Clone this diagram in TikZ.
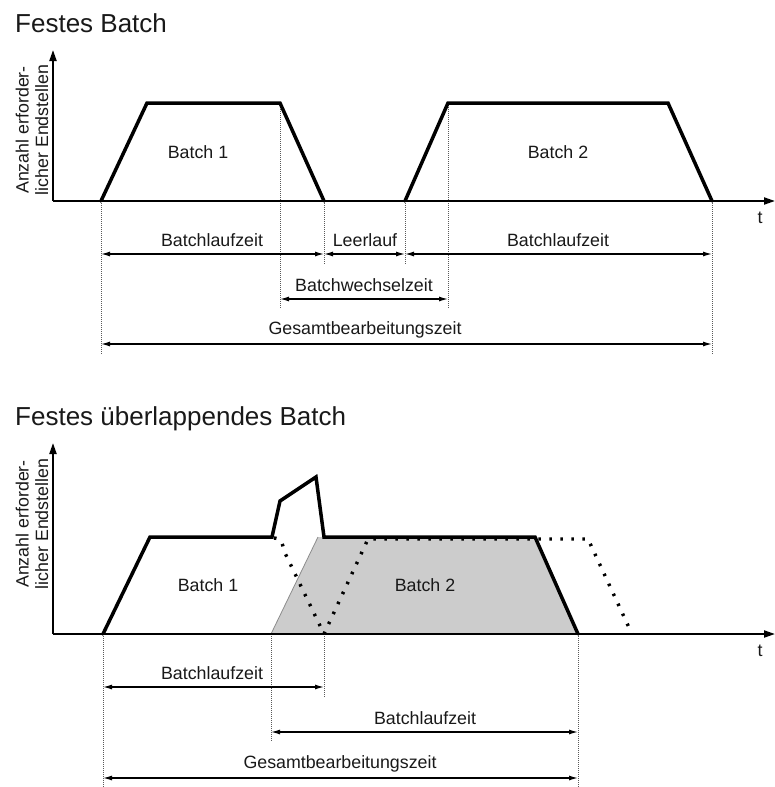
\documentclass[tikz,border=0pt]{standalone}
\usepackage{fontspec}
\setmainfont{Liberation Sans}
\usetikzlibrary{arrows.meta}
\begin{document}
\begin{tikzpicture}[x=1pt,y=-1pt,
  lbl/.style={font=\fontsize{17.8}{19.5}\selectfont, inner sep=0pt, text=black!90},
  ttl/.style={font=\fontsize{26}{30}\selectfont, inner sep=0pt, anchor=base west, text=black!90},
  axisline/.style={line width=2pt, -{Triangle[length=11pt,width=7pt]}},
  curve/.style={line width=3.5pt, line join=miter, line cap=round},
  ghost/.style={line width=3.4pt, dash pattern=on 2.5pt off 8.5pt},
  guide/.style={line width=0.9pt, black!65, dash pattern=on 1pt off 1pt},
  dim/.style={line width=1.2pt, {Latex[length=9pt,width=5pt]}-{Latex[length=9pt,width=5pt]}},
]
\useasboundingbox (0,0) rectangle (775,787);

% ================= top diagram =================
\node[ttl] (title1) at (15,32) {Festes Batch};
\coordinate (o1) at (53,201);
\coordinate (ytop1) at (53,50);
\coordinate (xend1) at (775,201);

% guides
\coordinate (A0) at (101,201);  \coordinate (A0b) at (101,355);
\coordinate (A1) at (280,103);  \coordinate (A1b) at (280,308);
\coordinate (A2) at (324,201);  \coordinate (A2b) at (324,264);
\coordinate (A3) at (405,201);  \coordinate (A3b) at (405,264);
\coordinate (A4) at (448,103);  \coordinate (A4b) at (448,308);
\coordinate (A5) at (712,201);  \coordinate (A5b) at (712,355);
\foreach \p in {0,...,5} \draw[guide] (A\p) -- (A\p b);

% batches
\draw[curve] (A0) -- (147,103) -- (A1) -- (A2);
\draw[curve] (A3) -- (A4) -- (668,103) -- (A5);
\node[lbl] (b1) at (198,152) {Batch 1};
\node[lbl] (b2) at (558,152) {Batch 2};

% axes
\draw[axisline] (o1) -- (ytop1);
\draw[axisline] (o1) -- (xend1);
\node[lbl] (t1) at (760,218) {t};
\node[lbl, rotate=90, align=center] (ylab1) at (32,130) {Anzahl erforder-\\licher Endstellen};

% dimensions
\coordinate (r1a) at (101,254); \coordinate (r1b) at (324,254);
\coordinate (r1c) at (405,254); \coordinate (r1d) at (712,254);
\draw[dim] (r1a) -- (r1b);
\draw[dim] (r1b) -- (r1c);
\draw[dim] (r1c) -- (r1d);
\node[lbl] (d1) at (212,240) {Batchlaufzeit};
\node[lbl] (d2) at (365,240) {Leerlauf};
\node[lbl] (d3) at (558,240) {Batchlaufzeit};
\coordinate (r2a) at (280,299); \coordinate (r2b) at (448,299);
\draw[dim] (r2a) -- (r2b);
\node[lbl] (d4) at (364,285) {Batchwechselzeit};
\coordinate (r3a) at (101,344); \coordinate (r3b) at (712,344);
\draw[dim] (r3a) -- (r3b);
\node[lbl] (d5) at (365,330) {Gesamtbearbeitungszeit};

% ================= bottom diagram =================
\node[ttl] (title2) at (15,425) {Festes überlappendes Batch};
\coordinate (o2) at (53,634);
\coordinate (ytop2) at (53,443);
\coordinate (xend2) at (775,634);

\coordinate (B0) at (103,634);  \coordinate (B0b) at (103,787);
\coordinate (B1) at (271,634);  \coordinate (B1b) at (271,742);
\coordinate (B2) at (324,634);  \coordinate (B2b) at (324,698);
\coordinate (B3) at (578,634);  \coordinate (B3b) at (578,787);

% gray batch 2
\fill[black!20] (B1) -- (318,537) -- (535,537) -- (B3) -- cycle;
\draw[black!45, line width=0.8pt] (B1) -- (318,537);

\foreach \p in {0,...,3} \draw[guide] (B\p) -- (B\p b);

% envelope
\draw[curve] (B0) -- (150,537) -- (272,537) -- (280,501) -- (316,477) -- (324,537) -- (535,537) -- (B3);

% dotted ghost curves
\draw[ghost] (274,538) .. controls (281,539) .. (285,553) -- (B2);
\draw[ghost] (B2) -- (368,539) -- (588,539) -- (632,634);

\node[lbl] (c1) at (208,585) {Batch 1};
\node[lbl] (c2) at (425,585) {Batch 2};

% axes
\draw[axisline] (o2) -- (ytop2);
\draw[axisline] (o2) -- (xend2);
\node[lbl] (t2) at (760,651) {t};
\node[lbl, rotate=90, align=center] (ylab2) at (32,524) {Anzahl erforder-\\licher Endstellen};

% dimensions
\coordinate (s1a) at (103,687); \coordinate (s1b) at (324,687);
\draw[dim] (s1a) -- (s1b);
\node[lbl] (e1) at (212,673) {Batchlaufzeit};
\coordinate (s2a) at (271,732); \coordinate (s2b) at (578,732);
\draw[dim] (s2a) -- (s2b);
\node[lbl] (e2) at (425,718) {Batchlaufzeit};
\coordinate (s3a) at (103,778); \coordinate (s3b) at (578,778);
\draw[dim] (s3a) -- (s3b);
\node[lbl] (e3) at (340,764) {Gesamtbearbeitungszeit};
\end{tikzpicture}
\end{document}
